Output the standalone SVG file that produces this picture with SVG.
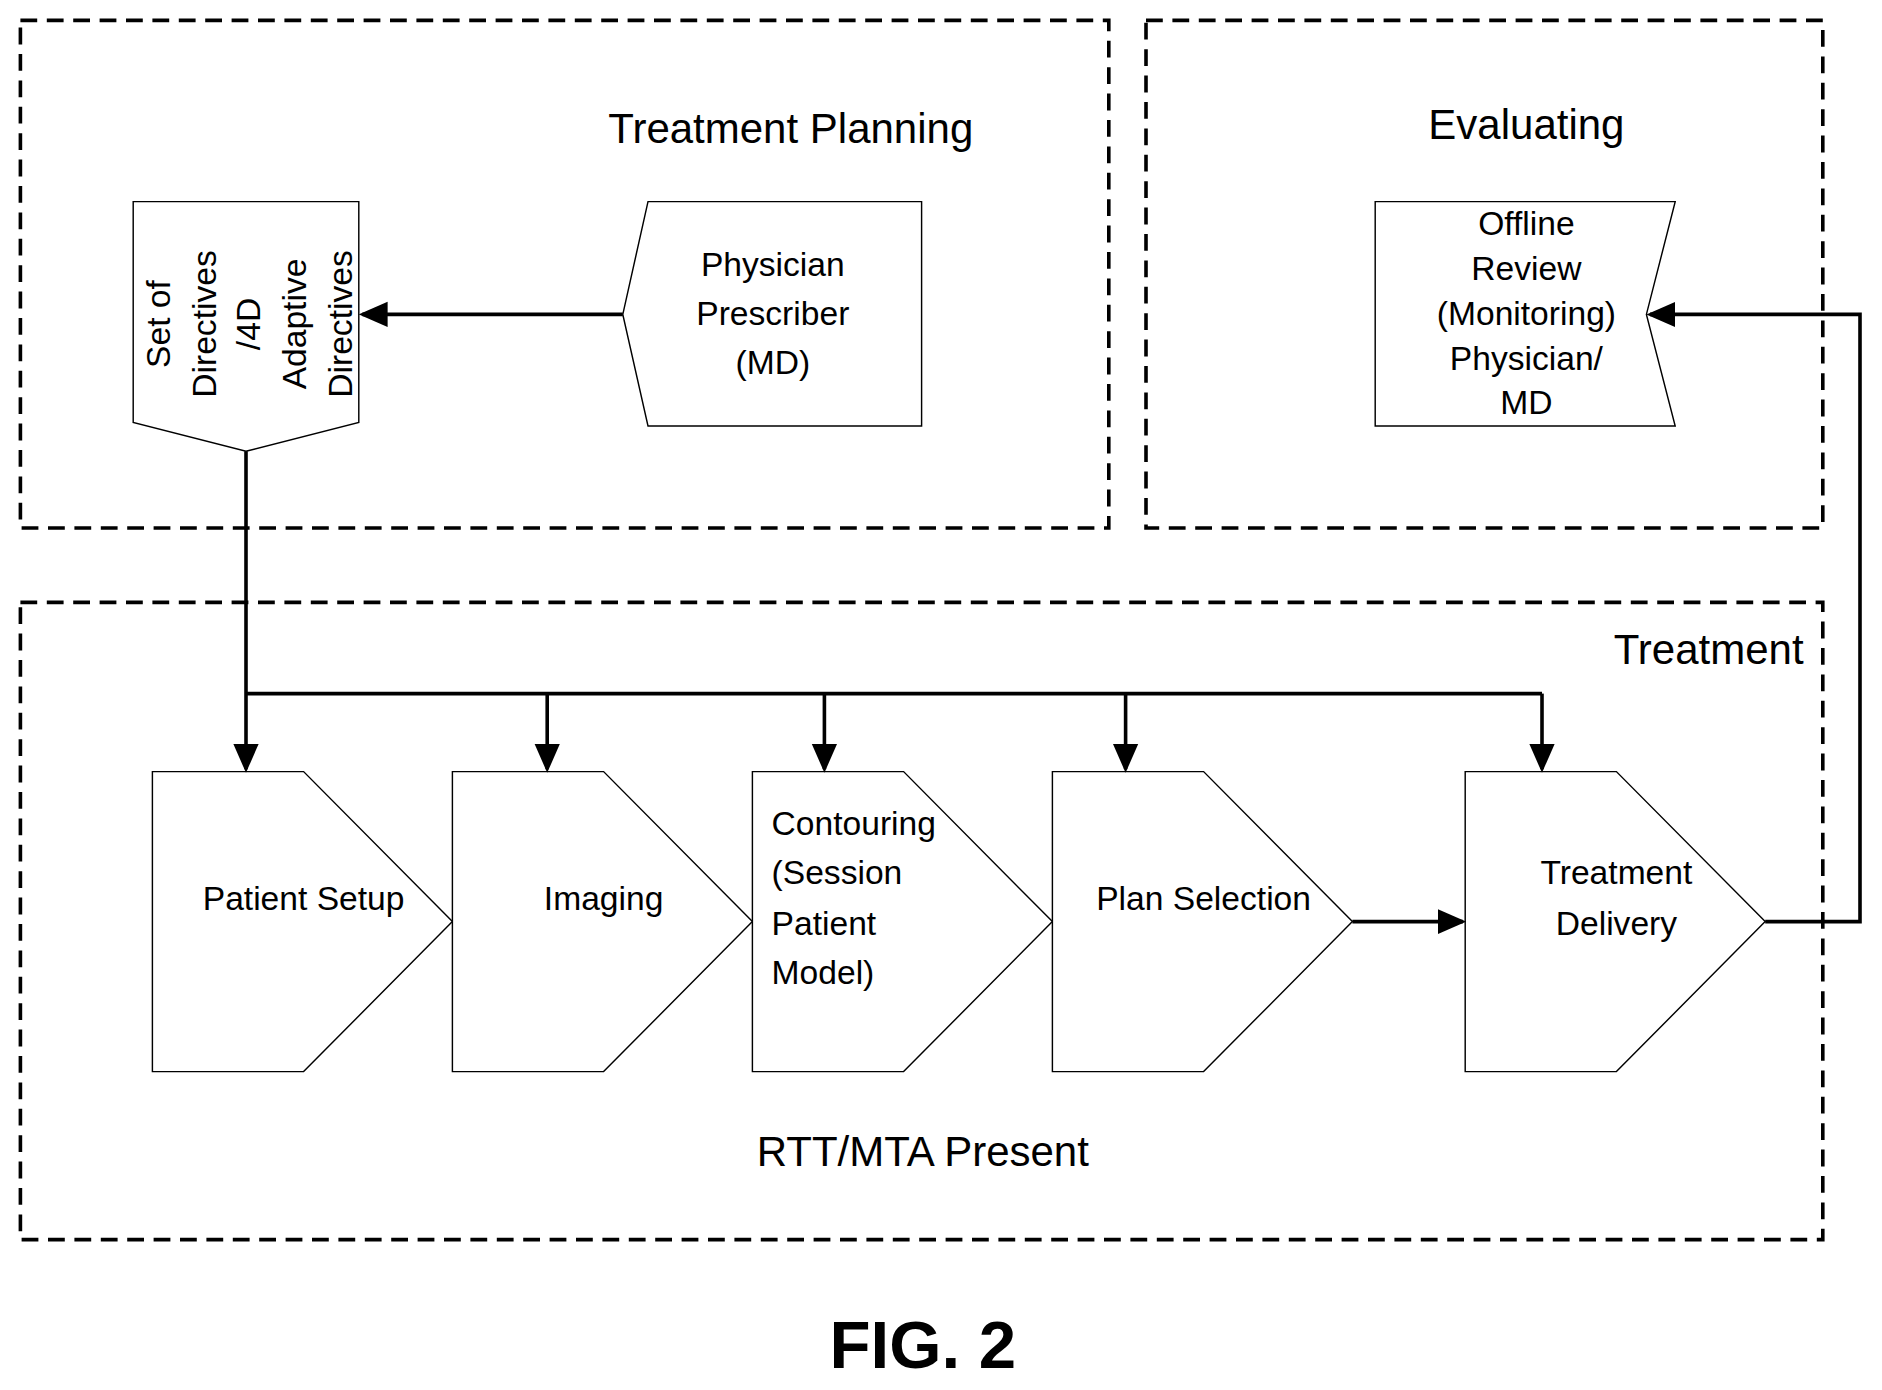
<svg xmlns="http://www.w3.org/2000/svg" width="1882" height="1390" viewBox="0 0 1882 1390">
<style>
.box{fill:none;stroke:#000;stroke-width:3;stroke-dasharray:14 8}
.sh{fill:#fff;stroke:#000;stroke-width:1.2}
.ln{fill:none;stroke:#000;stroke-width:3}
text{font-family:"Liberation Sans",Arial,sans-serif;fill:#000}
.t{font-size:28px;text-anchor:middle}
.h{font-size:35px;text-anchor:middle}
</style>
<defs>
<marker id="a" markerWidth="8" markerHeight="8" refX="7" refY="4" orient="auto" markerUnits="strokeWidth"><path d="M0,0.5 L8,4 L0,7.5 Z" fill="#000"/></marker>
</defs>
<rect width="1882" height="1390" fill="#fff"/>
<g transform="scale(1.2)">
<g id="planning"><rect class="box" x="17" y="17" width="907" height="423"/><text class="h" x="659" y="119">Treatment Planning</text></g>
<g id="evaluating"><rect class="box" x="955" y="17" width="564" height="423"/><text class="h" x="1272" y="116">Evaluating</text></g>
<g id="treatment"><rect class="box" x="17" y="502" width="1502" height="531"/><text class="h" x="1503" y="553" style="text-anchor:end">Treatment</text>
<text class="h" x="769" y="972">RTT/MTA Present</text></g>
<g id="directives"><polygon class="sh" points="111,168 299,168 299,352 205,376 111,352"/>
<g transform="translate(205,270) rotate(-90)"><text class="t" x="0" y="-63">Set of</text><text class="t" x="0" y="-25">Directives</text><text class="t" x="0" y="12">/4D</text><text class="t" x="0" y="50">Adaptive</text><text class="t" x="0" y="88">Directives</text></g></g>
<g id="physician"><polygon class="sh" points="540,168 768,168 768,355 540,355 519,262"/>
<text class="t" x="644" y="230">Physician</text><text class="t" x="644" y="271">Prescriber</text><text class="t" x="644" y="312">(MD)</text></g>
<g id="offline"><polygon class="sh" points="1146,168 1396,168 1372,262 1396,355 1146,355"/>
<text class="t" x="1272" y="196">Offline</text><text class="t" x="1272" y="233">Review</text><text class="t" x="1272" y="271">(Monitoring)</text><text class="t" x="1272" y="308">Physician/</text><text class="t" x="1272" y="345">MD</text></g>
<g id="setup"><polygon class="sh" points="127,643 253,643 377,768 253,893 127,893"/><text class="t" x="253" y="758">Patient Setup</text></g>
<g id="imaging"><polygon class="sh" points="377,643 503,643 627,768 503,893 377,893"/><text class="t" x="503" y="758">Imaging</text></g>
<g id="contouring"><polygon class="sh" points="627,643 753,643 877,768 753,893 627,893"/>
<text style="font-size:28px" x="643" y="696">Contouring</text><text style="font-size:28px" x="643" y="737">(Session</text><text style="font-size:28px" x="643" y="779">Patient</text><text style="font-size:28px" x="643" y="820">Model)</text></g>
<g id="plan"><polygon class="sh" points="877,643 1003,643 1127,768 1003,893 877,893"/><text class="t" x="1003" y="758">Plan Selection</text></g>
<g id="delivery"><polygon class="sh" points="1221,643 1347,643 1471,768 1347,893 1221,893"/><text class="t" x="1347" y="737">Treatment</text><text class="t" x="1347" y="779">Delivery</text></g>
<g id="connectors">
<line class="ln" x1="519" y1="262" x2="302" y2="262" marker-end="url(#a)"/>
<line class="ln" x1="205" y1="376" x2="205" y2="641" marker-end="url(#a)"/>
<line class="ln" x1="205" y1="578" x2="1285" y2="578"/>
<line class="ln" x1="456" y1="578" x2="456" y2="641" marker-end="url(#a)"/>
<line class="ln" x1="687" y1="578" x2="687" y2="641" marker-end="url(#a)"/>
<line class="ln" x1="938" y1="578" x2="938" y2="641" marker-end="url(#a)"/>
<line class="ln" x1="1285" y1="578" x2="1285" y2="641" marker-end="url(#a)"/>
<line class="ln" x1="1127" y1="768" x2="1219" y2="768" marker-end="url(#a)"/>
<polyline class="ln" points="1471,768 1550,768 1550,262 1375,262" marker-end="url(#a)"/>
</g>
<text x="769" y="1140" style="font-size:56px;font-weight:bold;text-anchor:middle">FIG. 2</text>
</g>
</svg>
